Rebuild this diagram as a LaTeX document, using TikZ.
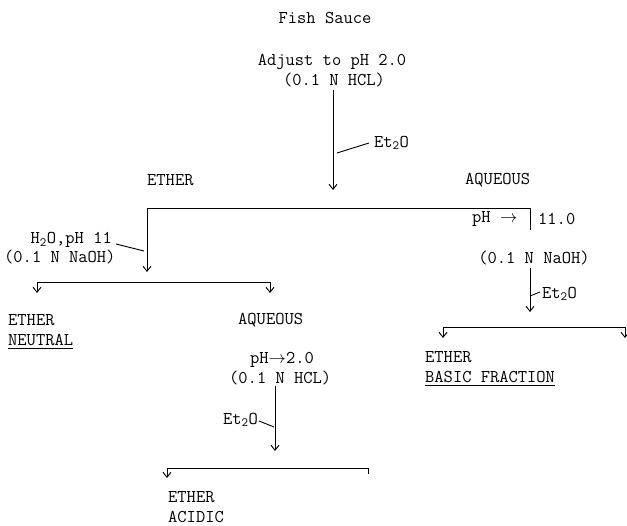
\documentclass[tikz,border=0pt]{standalone}
\usetikzlibrary{arrows.meta}
\begin{document}
\begin{tikzpicture}[x=1pt,y=-1pt,
  txt/.style={font=\ttfamily\fontsize{18}{21}\selectfont, inner sep=0pt},
  ln/.style={line width=0.9pt},
  arr/.style={ln,-{Straight Barb[length=5pt,width=8pt]}},
  barr/.style={ln,{Straight Barb[length=5pt,width=8pt]}-{Straight Barb[length=5pt,width=8pt]}}]
\useasboundingbox (0,0) rectangle (627,526);
% texts
\node[txt] (fish) at (325,18) {Fish Sauce};
\node[txt] (adj) at (332,62) {Adjust to pH 2.0};
\node[txt] (hcl1) at (334,80) {(0.1 N HCL)};
\node[txt,anchor=west] (et1) at (374,143) {Et\textsubscript{2}O};
\node[txt,anchor=west] (ether1) at (147,180) {ETHER};
\node[txt,anchor=west] (aq1) at (465,180) {AQUEOUS};
\node[txt,anchor=west] (ph1) at (472,219) {pH $\rightarrow$};
\node[txt,anchor=west] (eleven) at (538,219) {11.0};
\node[txt] (naoh2) at (534,258) {(0.1 N NaOH)};
\node[txt,anchor=west] (et3) at (542,294) {Et\textsubscript{2}O};
\node[txt,anchor=east] (h2o) at (112,240) {H\textsubscript{2}O,pH 11};
\node[txt,anchor=west] (naoh1) at (4,257) {(0.1 N NaOH)};
\node[txt,anchor=west] (etherN) at (8,320) {ETHER};
\node[txt,anchor=west] (neutral) at (8,340) {NEUTRAL};
\node[txt,anchor=west] (aq2) at (238,320) {AQUEOUS};
\node[txt,anchor=west] (ph2) at (250,360) {pH$\rightarrow$2.0};
\node[txt,anchor=west] (hcl2) at (229,378) {(0.1 N HCL)};
\node[txt,anchor=east] (et2) at (258,420) {Et\textsubscript{2}O};
\node[txt,anchor=west] (etherB) at (425,357) {ETHER};
\node[txt,anchor=west] (basic) at (425,377) {BASIC FRACTION};
\node[txt,anchor=west] (etherA) at (168,497) {ETHER};
\node[txt,anchor=west] (acidic) at (168,517) {ACIDIC};
% underlines
\draw[ln] (neutral.south west) ++(0,3) coordinate (nu1) -- (nu1 -| neutral.east);
\draw[ln] (basic.south west) ++(0,3) coordinate (bu1) -- (bu1 -| basic.east);
% main flow
\coordinate (v1a) at (333,90);
\coordinate (v1b) at (333,190);
\draw[arr] (v1a) -- (v1b);
\coordinate (l1a) at (337,153);
\coordinate (l1b) at (369,143);
\draw[ln] (l1a) -- (l1b);
\coordinate (h1L) at (147,208);
\coordinate (h1R) at (530,208);
\draw[ln] (h1L) -- (h1R);
% left branch
\coordinate (v2b) at (147,272);
\draw[arr] (h1L) -- (v2b);
\coordinate (l2a) at (116,244);
\coordinate (l2b) at (144,251);
\draw[ln] (l2a) -- (l2b);
\coordinate (b2L) at (37,282);
\coordinate (b2R) at (270,282);
\coordinate (b2Lt) at (37,293);
\coordinate (b2Rt) at (270,293);
\draw[barr] (b2Lt) -- (b2L) -- (b2R) -- (b2Rt);
% aqueous of left branch
\coordinate (v3a) at (275,386);
\coordinate (v3b) at (275,451);
\draw[arr] (v3a) -- (v3b);
\coordinate (l3a) at (259,421);
\coordinate (l3b) at (274,427);
\draw[ln] (l3a) -- (l3b);
\coordinate (b4L) at (167,468);
\coordinate (b4R) at (368,468);
\coordinate (b4Lt) at (167,478);
\coordinate (b4Rt) at (368,474);
\draw[ln,{Straight Barb[length=5pt,width=8pt]}-] (b4Lt) -- (b4L) -- (b4R) -- (b4Rt);
% right branch
\coordinate (v4b) at (530,230);
\draw[ln] (h1R) -- (v4b);
\coordinate (v5a) at (530,268);
\coordinate (v5b) at (530,312);
\draw[arr] (v5a) -- (v5b);
\coordinate (l5a) at (530,296);
\coordinate (l5b) at (540,292);
\draw[ln] (l5a) -- (l5b);
\coordinate (b3L) at (443,327);
\coordinate (b3R) at (625,327);
\coordinate (b3Lt) at (443,338);
\coordinate (b3Rt) at (625,338);
\draw[barr] (b3Lt) -- (b3L) -- (b3R) -- (b3Rt);
\end{tikzpicture}
\end{document}
